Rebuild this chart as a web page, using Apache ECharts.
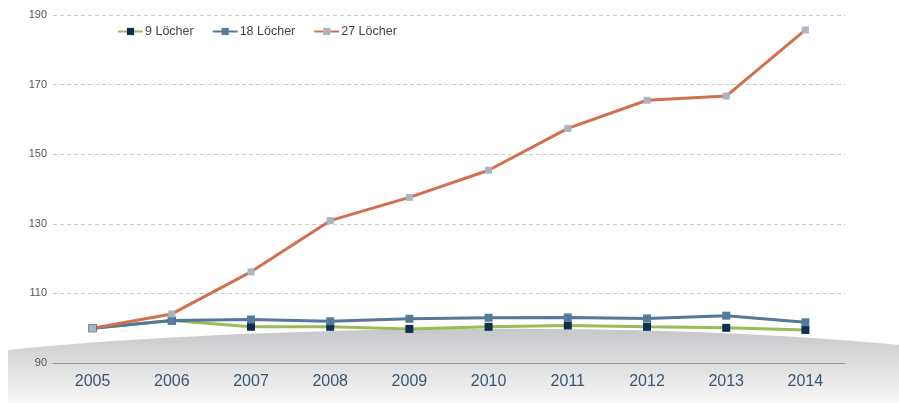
<!DOCTYPE html>
<html><head><meta charset="utf-8">
<script src="https://cdn.jsdelivr.net/npm/echarts@6/dist/echarts.min.js"></script>
<style>html,body{margin:0;padding:0;background:#fff}#c{width:899px;height:403px}</style>
</head><body><div id="c"></div>
<script>
const years = ['2005','2006','2007','2008','2009','2010','2011','2012','2013','2014'];
const loch9 = [100, 102.2, 100.4, 100.4, 99.8, 100.4, 100.8, 100.4, 100.1, 99.5];
const loch18 = [100, 102.2, 102.5, 102.0, 102.7, 103.0, 103.1, 102.8, 103.6, 101.7];
const loch27 = [100, 104.1, 116.2, 130.9, 137.6, 145.4, 157.4, 165.5, 166.7, 185.7];
const names = ['9 Löcher', '18 Löcher', '27 Löcher'];

// decorative background swoosh (cubic bezier outline)
const swoosh = [];
const P = [[8,350],[220,328],[620,318],[899,345]];
for (let i = 0; i <= 40; i++) {
  const t = i / 40, u = 1 - t;
  const a = u*u*u, b = 3*u*u*t, c = 3*u*t*t, d = t*t*t;
  swoosh.push([a*P[0][0]+b*P[1][0]+c*P[2][0]+d*P[3][0], a*P[0][1]+b*P[1][1]+c*P[2][1]+d*P[3][1]]);
}
swoosh.push([899,403],[8,403]);

const chart = echarts.init(document.getElementById('c'), null, {renderer: 'canvas'});
chart.setOption({
  animation: false,
  graphic: [{
    type: 'polygon', z: -10, silent: true,
    shape: {points: swoosh},
    style: {fill: {type: 'linear', x: 0, y: 0, x2: 0, y2: 1, colorStops: [
      {offset: 0, color: '#c6c7c9'}, {offset: 1, color: '#f7f7f7'}]}}
  }],
  grid: {left: 53, right: 54, top: 15, bottom: 40},
  legend: {
    top: 20, left: 112, itemWidth: 25, itemHeight: 9, itemGap: 18,
    textStyle: {color: '#444', fontSize: 12.5, padding: [0, 0, 0, -3], fontFamily: 'Liberation Sans, Arial'},
    data: names
  },
  xAxis: {
    type: 'category', data: years, boundaryGap: true,
    axisLine: {lineStyle: {color: '#999'}},
    axisTick: {length: 6, lineStyle: {color: '#999'}},
    axisLabel: {color: '#3d5670', fontSize: 16, margin: 11, fontFamily: 'Liberation Sans, Arial'}
  },
  yAxis: {
    type: 'value', min: 90, max: 190, interval: 20,
    axisLine: {show: false}, axisTick: {show: false},
    axisLabel: {color: '#555', fontSize: 11, margin: 6, fontFamily: 'Liberation Sans, Arial'},
    splitLine: {lineStyle: {color: '#ccc', type: [4, 3]}}
  },
  series: [
    {name: names[0], type: 'line', data: loch9, symbol: 'rect', symbolSize: 8,
     lineStyle: {color: '#9bbb59', width: 3}, itemStyle: {color: '#0e2f4e'}},
    {name: names[1], type: 'line', data: loch18, symbol: 'rect', symbolSize: 8,
     lineStyle: {color: '#537898', width: 3}, itemStyle: {color: '#557a9a'}},
    {name: names[2], type: 'line', data: loch27, symbol: 'rect', symbolSize: 7,
     lineStyle: {color: '#d2704e', width: 3}, itemStyle: {color: '#a9b6c2'}}
  ]
});
</script></body></html>
